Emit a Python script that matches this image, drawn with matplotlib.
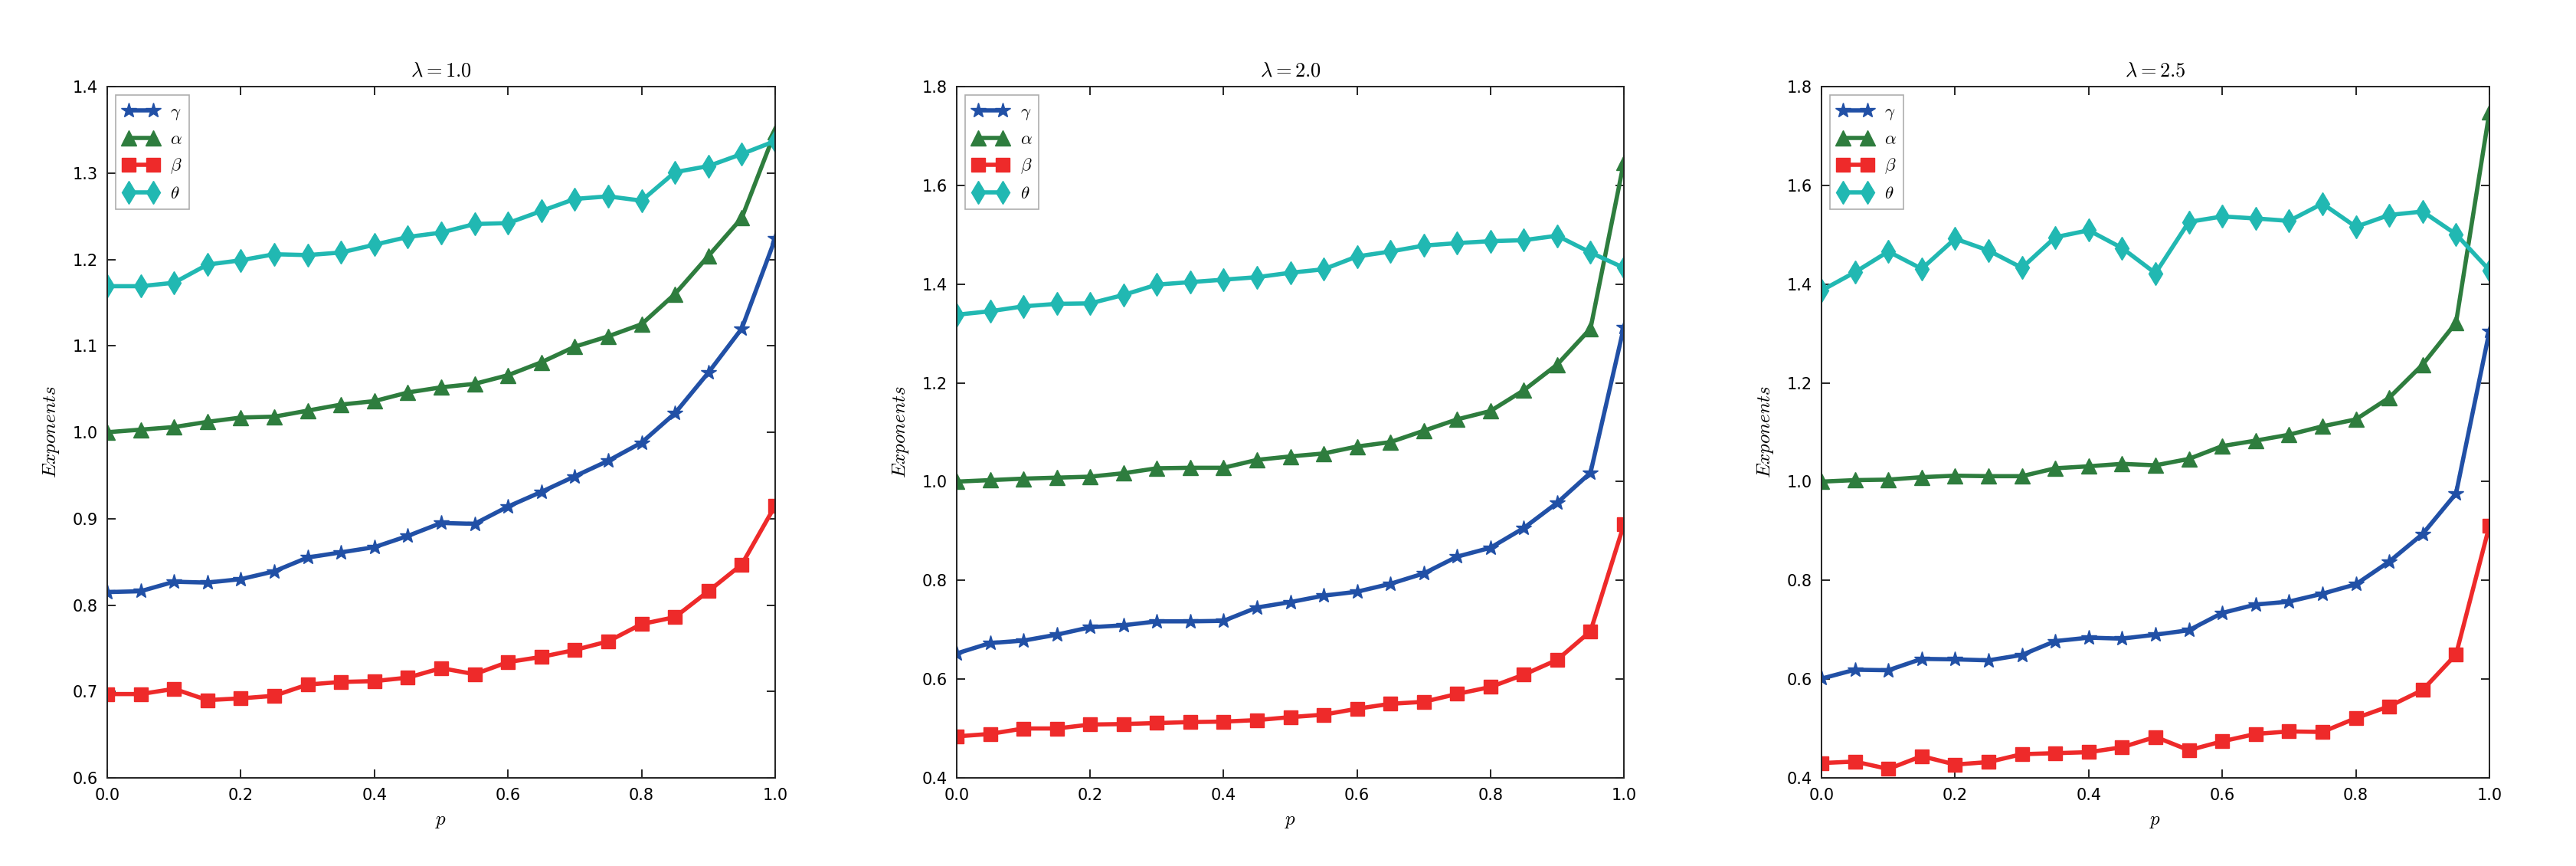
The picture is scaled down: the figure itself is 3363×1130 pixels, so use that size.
import matplotlib
matplotlib.use('Agg')
import matplotlib.pyplot as plt
import numpy as np

plt.rcParams['mathtext.fontset'] = 'cm'
plt.rcParams['font.family'] = 'DejaVu Sans'

p = [0.0, 0.05, 0.1, 0.15, 0.2, 0.25, 0.3, 0.35, 0.4, 0.45, 0.5,
     0.55, 0.6, 0.65, 0.7, 0.75, 0.8, 0.85, 0.9, 0.95, 1.0]

# lambda = 1.0
gamma1 = [0.815, 0.816, 0.827, 0.826, 0.830, 0.839, 0.855, 0.861, 0.867, 0.880, 0.895,
          0.894, 0.914, 0.931, 0.949, 0.967, 0.988, 1.022, 1.069, 1.120, 1.224]
alpha1 = [1.000, 1.003, 1.006, 1.012, 1.017, 1.018, 1.025, 1.032, 1.036, 1.046, 1.052,
          1.056, 1.066, 1.081, 1.099, 1.111, 1.125, 1.160, 1.204, 1.248, 1.348]
beta1 = [0.697, 0.697, 0.703, 0.690, 0.692, 0.695, 0.708, 0.711, 0.712, 0.716, 0.727,
         0.720, 0.734, 0.740, 0.748, 0.758, 0.778, 0.786, 0.816, 0.847, 0.915]
theta1 = [1.169, 1.169, 1.173, 1.194, 1.199, 1.206, 1.205, 1.208, 1.217, 1.226, 1.231,
          1.241, 1.242, 1.256, 1.270, 1.273, 1.268, 1.301, 1.308, 1.322, 1.337]

# lambda = 2.0
gamma2 = [0.652, 0.673, 0.678, 0.690, 0.705, 0.709, 0.717, 0.717, 0.718, 0.745, 0.756,
          0.769, 0.777, 0.793, 0.814, 0.848, 0.866, 0.906, 0.957, 1.018, 1.313]
alpha2 = [1.000, 1.003, 1.006, 1.008, 1.010, 1.017, 1.027, 1.028, 1.028, 1.044, 1.051,
          1.057, 1.071, 1.080, 1.103, 1.126, 1.143, 1.185, 1.237, 1.310, 1.647]
beta2 = [0.484, 0.489, 0.500, 0.500, 0.508, 0.509, 0.511, 0.513, 0.514, 0.517, 0.523,
         0.528, 0.540, 0.550, 0.554, 0.570, 0.584, 0.609, 0.639, 0.697, 0.913]
theta2 = [1.338, 1.345, 1.355, 1.360, 1.361, 1.378, 1.399, 1.404, 1.409, 1.414, 1.423,
          1.430, 1.456, 1.466, 1.478, 1.483, 1.487, 1.489, 1.498, 1.464, 1.433]

# lambda = 2.5
gamma3 = [0.601, 0.619, 0.618, 0.641, 0.640, 0.638, 0.649, 0.677, 0.684, 0.682, 0.690,
          0.699, 0.734, 0.751, 0.757, 0.773, 0.792, 0.838, 0.894, 0.976, 1.305]
alpha3 = [1.000, 1.003, 1.004, 1.009, 1.012, 1.011, 1.011, 1.027, 1.031, 1.036, 1.033,
          1.046, 1.072, 1.083, 1.095, 1.112, 1.126, 1.170, 1.237, 1.322, 1.749]
beta3 = [0.430, 0.433, 0.418, 0.444, 0.427, 0.432, 0.448, 0.450, 0.452, 0.462, 0.483,
         0.456, 0.474, 0.489, 0.494, 0.493, 0.521, 0.545, 0.578, 0.650, 0.911]
theta3 = [1.387, 1.424, 1.466, 1.431, 1.492, 1.468, 1.433, 1.495, 1.509, 1.473, 1.422,
          1.526, 1.537, 1.533, 1.528, 1.563, 1.516, 1.540, 1.547, 1.501, 1.428]

lambdas = ['1.0', '2.0', '2.5']
panels = [(gamma1, alpha1, beta1, theta1),
          (gamma2, alpha2, beta2, theta2),
          (gamma3, alpha3, beta3, theta3)]
ylims = [(0.6, 1.4), (0.4, 1.8), (0.4, 1.8)]
ysteps = [0.1, 0.2, 0.2]

names = [r'$\gamma$', r'$\alpha$', r'$\beta$', r'$\theta$']
colors = ['#2150a6', '#2e7d3e', '#ee2a2a', '#21b8b2']
markers = ['*', '^', 's', 'd']
msizes = [15, 14, 13, 15]

W, H = 3363, 1130
# axes edges in pixels (left, right), shared top/bottom
xedges = [(140, 1012), (1249, 2120), (2378, 3250)]
top, bottom = 113, 1015

fig = plt.figure(figsize=(W / 100, H / 100), dpi=100)
axes = [fig.add_axes([l / W, 1 - bottom / H, (r - l) / W, (bottom - top) / H])
        for l, r in xedges]

for ax, lam, series, ylim, ystep in zip(axes, lambdas, panels, ylims, ysteps):
    for vals, name, c, m, ms in zip(series, names, colors, markers, msizes):
        ax.plot(p, vals, color=c, marker=m, markersize=ms, markeredgecolor=c,
                linewidth=4, label=name)
    ax.set_xlim(0, 1)
    ax.set_ylim(*ylim)
    ax.set_xticks(np.arange(0, 1.01, 0.2))
    ax.set_yticks(np.arange(ylim[0], ylim[1] + 1e-6, ystep))
    ax.xaxis.set_major_formatter(matplotlib.ticker.FormatStrFormatter('%.1f'))
    ax.yaxis.set_major_formatter(matplotlib.ticker.FormatStrFormatter('%.1f'))
    ax.tick_params(direction='in', top=True, right=True, length=8, width=1.2,
                   labelsize=15, pad=9)
    for s in ax.spines.values():
        s.set_linewidth(1.4)
        s.set_color('#222222')
    ax.set_title(r'$\lambda = %s$' % lam, fontsize=19, pad=10)
    ax.set_xlabel(r'$p$', fontsize=18, labelpad=8)
    ax.set_ylabel(r'$Exponents$', fontsize=18, labelpad=10)
    leg = ax.legend(loc='upper left', numpoints=2, fontsize=16.5, fancybox=False,
                    handlelength=2.0, handletextpad=0.7, borderaxespad=0.5,
                    labelspacing=0.5)
    leg.get_frame().set_edgecolor('#999999')
    leg.get_frame().set_linewidth(1.2)

fig.savefig('out.png', dpi=100)
